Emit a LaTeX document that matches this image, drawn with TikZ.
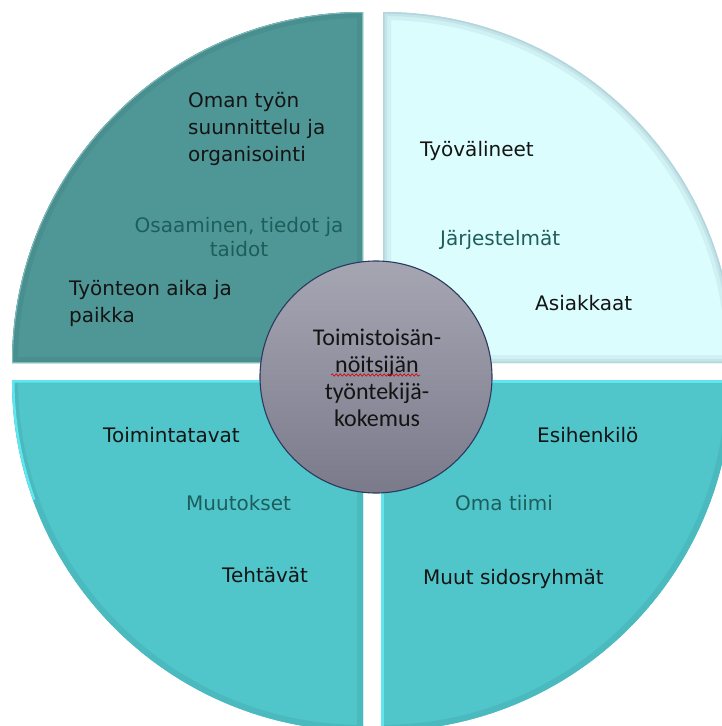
\documentclass[tikz,border=0pt]{standalone}
\usepackage{fontspec}
\setmainfont{DejaVu Sans}
\newfontfamily\hubfont{Carlito}
\usetikzlibrary{decorations.pathmorphing}

\definecolor{darkquad}{HTML}{4F9797}
\definecolor{darkrim}{HTML}{7DBABA}
\definecolor{darkband}{HTML}{4A8F8F}
\definecolor{palequad}{HTML}{DCFDFE}
\definecolor{palerim}{HTML}{B3D5DB}
\definecolor{cyanquad}{HTML}{50C6CB}
\definecolor{cyanrim}{HTML}{5FE6EE}
\definecolor{cyanband}{HTML}{4BBABF}
\definecolor{hubtop}{HTML}{A6A6B3}
\definecolor{hubbottom}{HTML}{7A7A8B}
\definecolor{hubedge}{HTML}{2B3A5E}
\definecolor{inktext}{HTML}{141414}
\definecolor{subtext}{HTML}{1D5E5C}

\tikzset{
  x=1pt, y=1pt,
  label/.style={inner sep=0pt, text=inktext, align=left,
    font=\fontsize{20}{27}\selectfont},
  sublabel/.style={label, text=subtext},
  hub/.style={circle, draw=hubedge, line width=1.1pt, minimum size=232pt,
    top color=hubtop, bottom color=hubbottom, inner sep=0pt},
  hubtext/.style={inner sep=0pt, text=inktext, align=center,
    font=\hubfont\fontsize{24}{27}\selectfont},
}

\begin{document}
\begin{tikzpicture}
\useasboundingbox (0,0) rectangle (722,-726);
\clip (0,0) rectangle (722,-726);

% quarter discs, each with its own corner
\def\qr{351}
\def\qtl{(363,-363) -- (12,-363) arc[start angle=180, end angle=90, radius=\qr] -- cycle}
\def\qtr{(383,-363) -- (383,-12) arc[start angle=90, end angle=0, radius=\qr] -- cycle}
\def\qbl{(363,-380) -- (12,-380) arc[start angle=180, end angle=270, radius=\qr] -- cycle}
\def\qbr{(381,-380) -- (732,-380) arc[start angle=0, end angle=-90, radius=\qr] -- cycle}

% top left
\fill[darkquad] \qtl;
\begin{scope}
  \clip \qtl;
  \draw[darkband, line width=12pt] \qtl;
  \draw[darkrim, line width=2pt] \qtl;
\end{scope}

% top right
\fill[palequad] \qtr;
\begin{scope}
  \clip \qtr;
  \draw[palerim!30!palequad, line width=16pt] \qtr;
  \draw[palerim!60!palequad, line width=8pt] \qtr;
  \draw[palerim, line width=3pt] \qtr;
\end{scope}

% bottom left
\fill[cyanquad] \qbl;
\begin{scope}
  \clip \qbl;
  \draw[cyanband, line width=12pt] (363,-380) -- (363,-731);
  \draw[cyanband, line width=12pt] (12,-380) arc[start angle=180, end angle=270, radius=\qr];
  \draw[cyanrim, line width=5pt] (363,-380) -- (12,-380)
    arc[start angle=180, end angle=200, radius=\qr];
\end{scope}

% bottom right
\fill[cyanquad] \qbr;
\begin{scope}
  \clip \qbr;
  \draw[cyanband, line width=12pt] (732,-380) arc[start angle=0, end angle=-90, radius=\qr];
  \draw[cyanrim, line width=5pt] (381,-731) -- (381,-380) -- (732,-380);
\end{scope}

% labels of the quarters (multi-line nodes placed by their last baseline)
\node[label, anchor=base west] (plan) at (188,-161)
  {Oman työn\\suunnittelu ja\\organisointi};
\node[sublabel, align=center, anchor=base, font=\fontsize{20}{24}\selectfont]
  (skills) at (239,-256) {Osaaminen, tiedot ja\\taidot};
\node[label, anchor=base west] (place) at (69,-322) {Työnteon aika ja\\paikka};

\node[label, anchor=base west] (tools) at (420,-156) {Työvälineet};
\node[sublabel, anchor=base west] (systems) at (440,-245) {Järjestelmät};
\node[label, anchor=base west] (clients) at (535,-310) {Asiakkaat};

\node[label, anchor=base west] (ways) at (103,-442) {Toimintatavat};
\node[sublabel, anchor=base west] (changes) at (186,-510) {Muutokset};
\node[label, anchor=base west] (tasks) at (222,-582) {Tehtävät};

\node[label, anchor=base west] (boss) at (537,-442) {Esihenkilö};
\node[sublabel, anchor=base west] (team) at (455,-510) {Oma tiimi};
\node[label, anchor=base west] (others) at (423,-584) {Muut sidosryhmät};

% central circle
\node[hub] (hub) at (376,-377) {};
\node[hubtext, anchor=base] (hubtxt) at (377,-426)
  {Toimistoisän-\\nöitsijän\\työntekijä-\\kokemus};
\draw[red!85!black, line width=0.6pt,
  decorate, decoration={snake, amplitude=1.2pt, segment length=4pt}]
  (331,-375) -- (420,-375);
\end{tikzpicture}
\end{document}
